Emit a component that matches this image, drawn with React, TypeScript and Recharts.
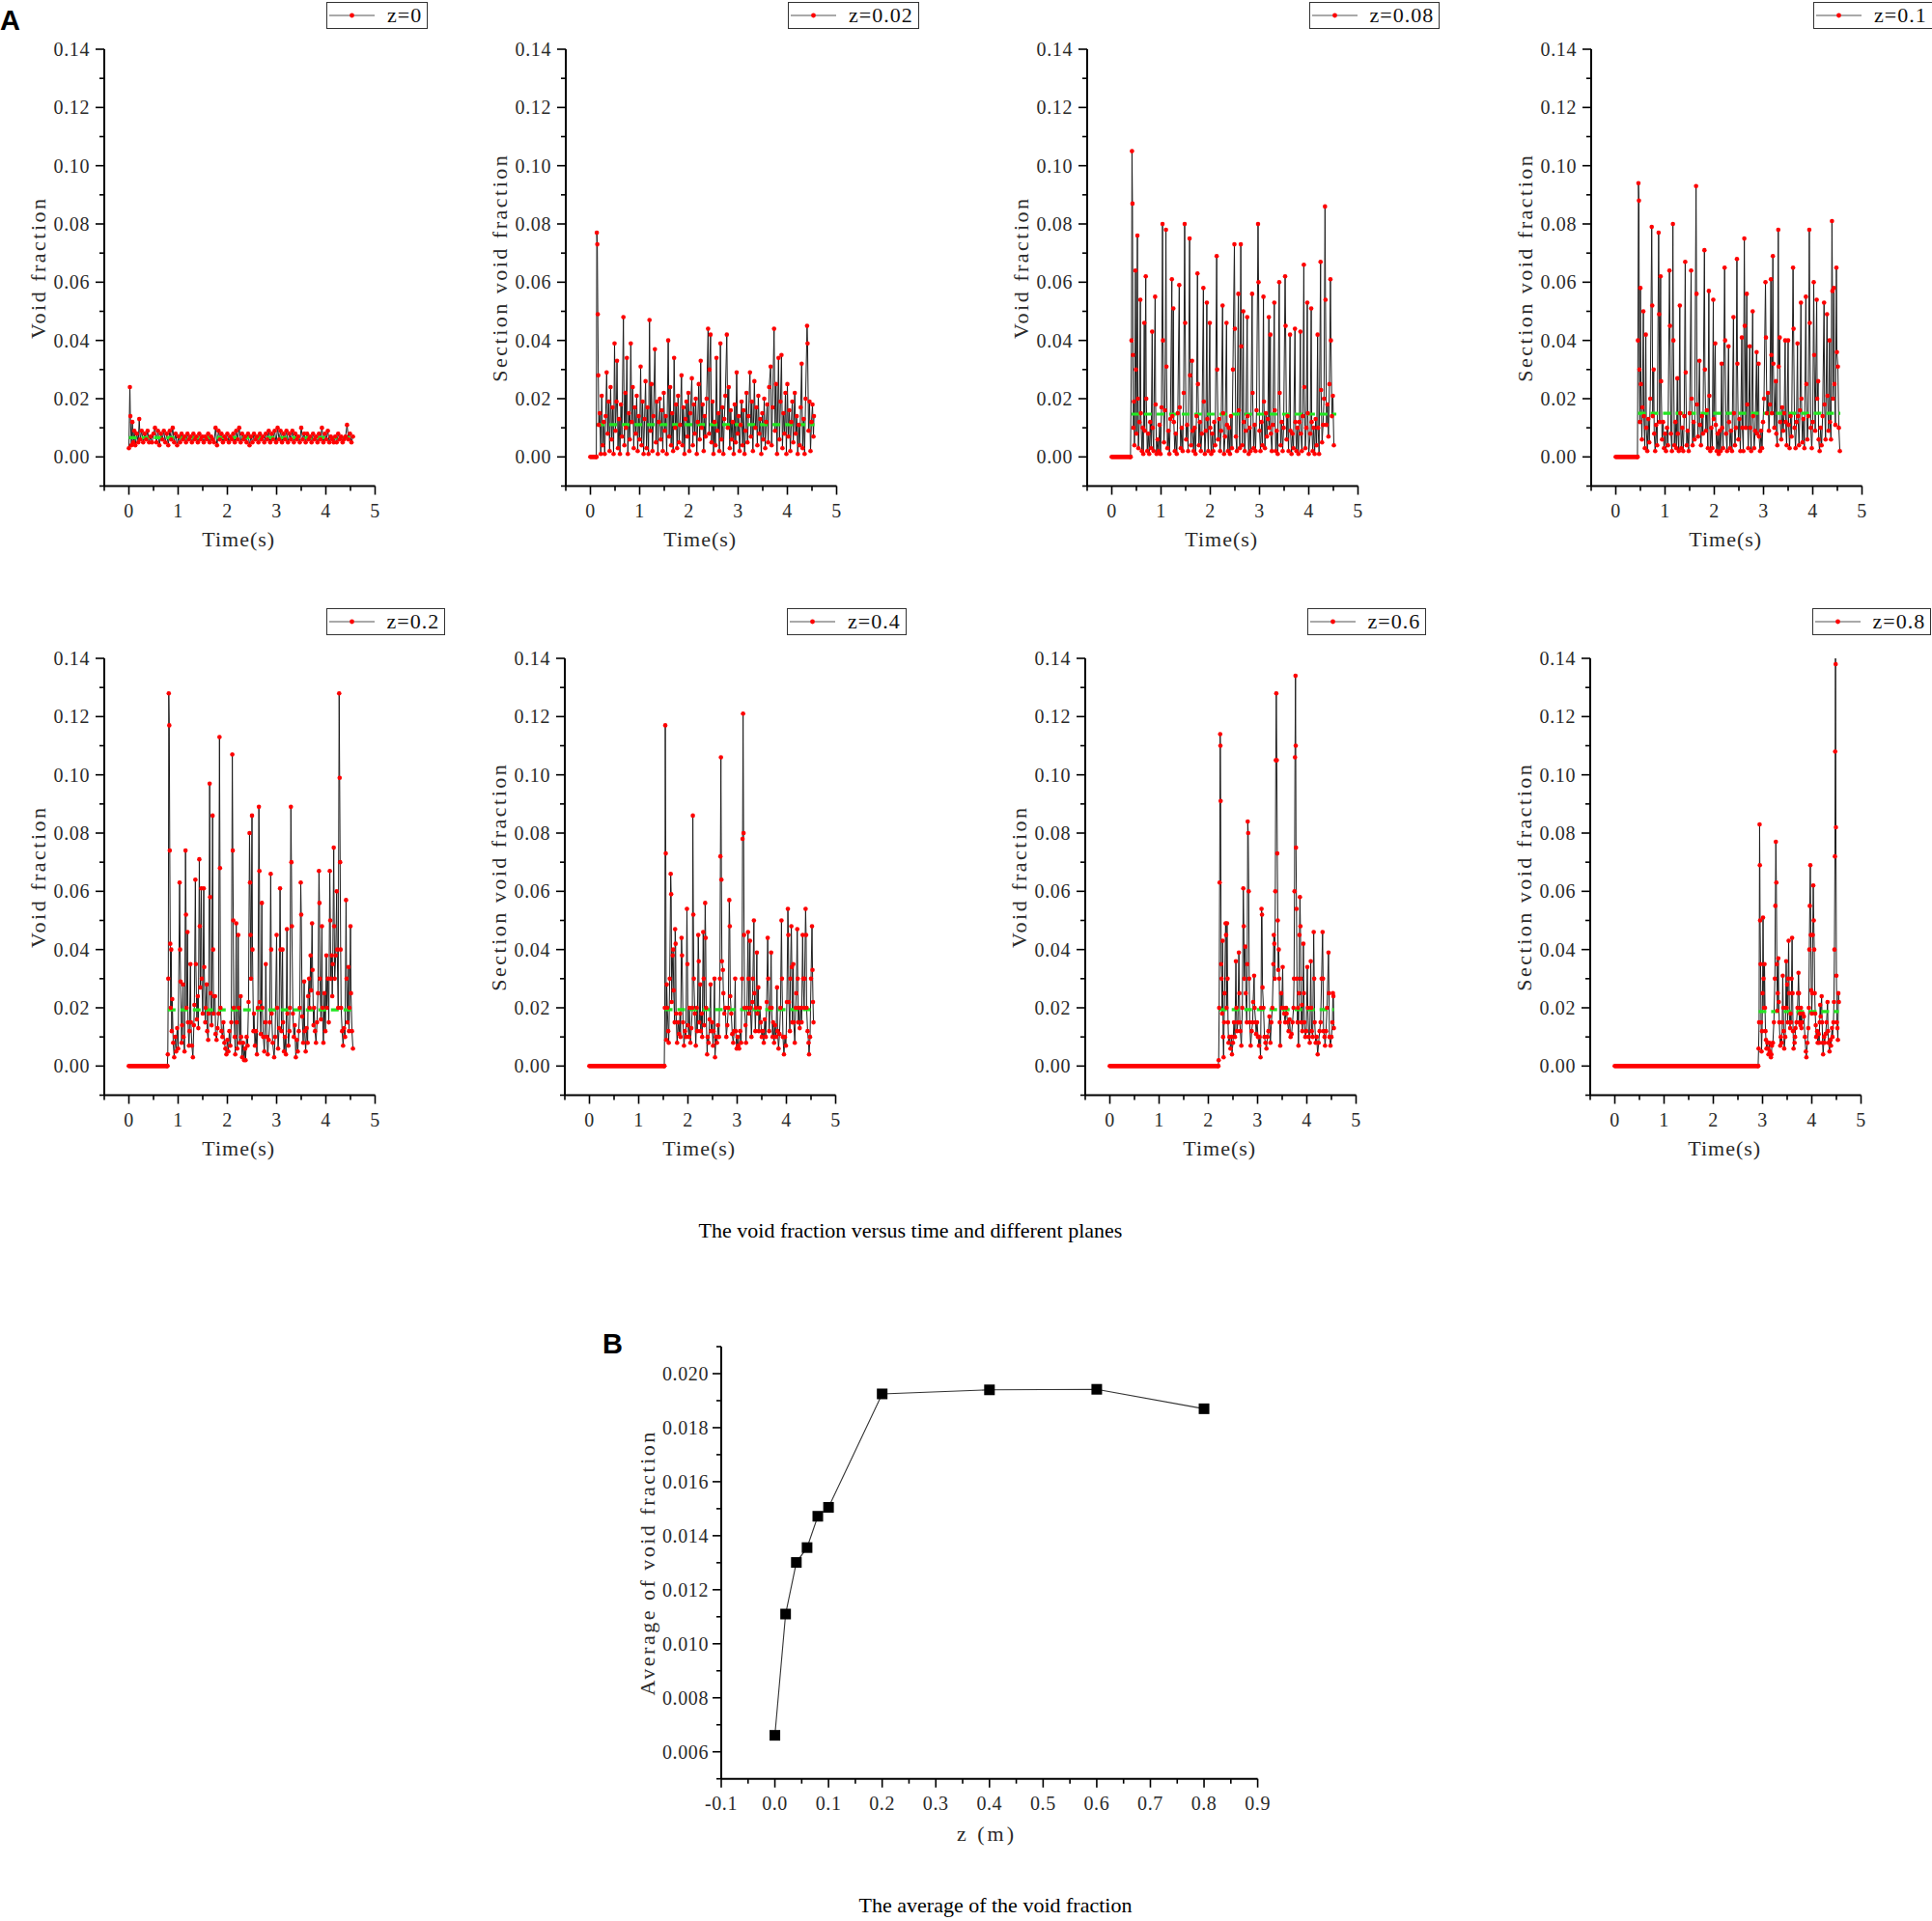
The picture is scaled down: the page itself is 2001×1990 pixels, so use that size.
import React from 'react';
import { LineChart, Line, XAxis, YAxis, Legend } from 'recharts';

// ---------------- DATA ----------------
const planeLabels = ['z=0', 'z=0.02', 'z=0.08', 'z=0.1', 'z=0.2', 'z=0.4', 'z=0.6', 'z=0.8'];
const yTitles = ['Void fraction', 'Section void fraction', 'Void fraction', 'Section void fraction',
  'Void fraction', 'Section void fraction', 'Void fraction', 'Section void fraction'];
// time (s) until which the plane stays dry (void fraction 0)
const dryUntil = [0, 0.12, 0.38, 0.44, 0.78, 1.52, 2.2, 2.91];
// average void fraction per plane, and the time span of the average line
const meanValues = [0.0066, 0.0111, 0.0147, 0.015, 0.0193, 0.0194, 0.0194, 0.0187];
const meanStart = [0.0, 0.13, 0.4, 0.45, 0.79, 1.53, 2.22, 2.92];
const meanEnd = [4.56, 4.55, 4.56, 4.56, 4.55, 4.55, 4.55, 4.55];

const seriesZ0: number[][] = [[0,0.003],[0.02,0.024],[0.03,0.014],[0.05,0.004],[0.07,0.012],[0.09,0.005],[0.11,0.009],[0.13,0.004],[0.16,0.008],[0.19,0.005],[0.21,0.013],[0.23,0.006],[0.26,0.009],[0.29,0.005],[0.32,0.008],[0.35,0.006],[0.38,0.009],[0.41,0.005],[0.44,0.007],[0.47,0.005],[0.5,0.008],[0.53,0.01],[0.56,0.005],[0.59,0.009],[0.62,0.004],[0.65,0.008],[0.68,0.006],[0.71,0.009],[0.74,0.005],[0.77,0.008],[0.8,0.004],[0.83,0.009],[0.86,0.006],[0.89,0.01],[0.92,0.005],[0.95,0.008],[0.98,0.004],[1.01,0.007],[1.04,0.005],[1.07,0.008],[1.1,0.006],[1.13,0.007],[1.16,0.005],[1.19,0.008],[1.22,0.006],[1.25,0.007],[1.28,0.005],[1.31,0.008],[1.34,0.006],[1.37,0.007],[1.4,0.005],[1.43,0.008],[1.46,0.006],[1.49,0.007],[1.52,0.005],[1.55,0.007],[1.58,0.006],[1.61,0.008],[1.64,0.005],[1.67,0.007],[1.7,0.006],[1.73,0.005],[1.76,0.01],[1.79,0.004],[1.82,0.009],[1.85,0.006],[1.88,0.008],[1.91,0.005],[1.94,0.007],[1.97,0.006],[2,0.008],[2.03,0.005],[2.06,0.007],[2.09,0.006],[2.12,0.008],[2.15,0.005],[2.18,0.009],[2.21,0.006],[2.24,0.01],[2.27,0.005],[2.3,0.008],[2.33,0.006],[2.36,0.007],[2.39,0.005],[2.42,0.008],[2.45,0.004],[2.48,0.007],[2.51,0.005],[2.54,0.008],[2.57,0.006],[2.6,0.007],[2.63,0.005],[2.66,0.008],[2.69,0.006],[2.72,0.007],[2.75,0.005],[2.78,0.008],[2.81,0.006],[2.84,0.009],[2.87,0.005],[2.9,0.008],[2.93,0.006],[2.96,0.009],[2.99,0.005],[3.02,0.01],[3.05,0.006],[3.08,0.009],[3.11,0.005],[3.14,0.008],[3.17,0.006],[3.2,0.009],[3.23,0.005],[3.26,0.008],[3.29,0.006],[3.32,0.009],[3.35,0.005],[3.38,0.008],[3.41,0.006],[3.44,0.007],[3.47,0.005],[3.5,0.01],[3.53,0.006],[3.56,0.008],[3.59,0.005],[3.62,0.008],[3.65,0.006],[3.68,0.007],[3.71,0.005],[3.74,0.008],[3.77,0.006],[3.8,0.007],[3.83,0.005],[3.86,0.008],[3.89,0.006],[3.92,0.01],[3.95,0.005],[3.98,0.008],[4.01,0.006],[4.04,0.009],[4.07,0.005],[4.1,0.007],[4.13,0.006],[4.16,0.005],[4.19,0.007],[4.22,0.005],[4.25,0.008],[4.28,0.006],[4.31,0.007],[4.34,0.005],[4.37,0.006],[4.4,0.007],[4.43,0.011],[4.46,0.006],[4.49,0.008],[4.52,0.005],[4.55,0.007]];

const seriesZ002: number[][] = [[0.12,0],[0.13,0.077],[0.14,0.073],[0.15,0.049],[0.16,0.028],[0.17,0.011],[0.19,0.015],[0.21,0.001],[0.23,0.021],[0.25,0.004],[0.27,0.012],[0.29,0.001],[0.31,0.014],[0.33,0.029],[0.35,0.008],[0.37,0.019],[0.39,0.002],[0.41,0.024],[0.43,0.006],[0.45,0.017],[0.47,0.001],[0.49,0.039],[0.51,0.009],[0.53,0.019],[0.54,0.033],[0.56,0.003],[0.58,0.013],[0.6,0.001],[0.62,0.018],[0.64,0.007],[0.67,0.048],[0.69,0.004],[0.71,0.022],[0.72,0.01],[0.74,0.034],[0.76,0.001],[0.78,0.015],[0.8,0.006],[0.82,0.039],[0.84,0.012],[0.86,0.024],[0.88,0.003],[0.9,0.017],[0.92,0.008],[0.94,0.021],[0.96,0.002],[0.98,0.014],[1,0.006],[1.02,0.031],[1.04,0.004],[1.06,0.019],[1.08,0.001],[1.1,0.013],[1.12,0.026],[1.14,0.003],[1.16,0.017],[1.18,0.001],[1.2,0.047],[1.22,0.009],[1.24,0.025],[1.26,0.002],[1.28,0.014],[1.31,0.037],[1.33,0.005],[1.35,0.019],[1.37,0.001],[1.39,0.012],[1.41,0.02],[1.43,0.006],[1.45,0.016],[1.47,0.002],[1.49,0.022],[1.51,0.009],[1.53,0.014],[1.55,0.001],[1.58,0.04],[1.6,0.007],[1.62,0.024],[1.64,0.004],[1.66,0.015],[1.68,0.002],[1.7,0.034],[1.72,0.01],[1.74,0.018],[1.76,0.003],[1.78,0.021],[1.8,0.005],[1.82,0.011],[1.85,0.028],[1.87,0.004],[1.89,0.017],[1.91,0.001],[1.93,0.013],[1.95,0.019],[1.97,0.007],[1.99,0.022],[2.01,0.002],[2.03,0.015],[2.06,0.027],[2.08,0.004],[2.1,0.018],[2.12,0.008],[2.14,0.02],[2.16,0.001],[2.18,0.012],[2.2,0.025],[2.22,0.006],[2.24,0.033],[2.26,0.01],[2.28,0.018],[2.3,0.002],[2.32,0.014],[2.34,0.007],[2.36,0.02],[2.39,0.044],[2.41,0.008],[2.42,0.03],[2.44,0.042],[2.46,0.005],[2.48,0.019],[2.5,0.001],[2.52,0.012],[2.54,0.004],[2.56,0.034],[2.58,0.009],[2.6,0.015],[2.62,0.002],[2.64,0.039],[2.66,0.006],[2.68,0.017],[2.7,0.001],[2.72,0.013],[2.74,0.021],[2.77,0.042],[2.79,0.01],[2.81,0.024],[2.83,0.003],[2.85,0.016],[2.87,0.006],[2.89,0.012],[2.91,0.001],[2.93,0.018],[2.95,0.005],[2.97,0.029],[2.99,0.008],[3.01,0.014],[3.03,0.002],[3.05,0.011],[3.07,0.019],[3.09,0.004],[3.11,0.016],[3.13,0.001],[3.15,0.009],[3.17,0.022],[3.19,0.005],[3.21,0.014],[3.24,0.029],[3.26,0.007],[3.28,0.019],[3.3,0.002],[3.33,0.026],[3.35,0.01],[3.37,0.017],[3.39,0.004],[3.41,0.021],[3.43,0.008],[3.45,0.013],[3.47,0.001],[3.49,0.015],[3.51,0.006],[3.53,0.02],[3.55,0.003],[3.57,0.012],[3.59,0.018],[3.61,0.005],[3.63,0.024],[3.66,0.031],[3.68,0.004],[3.7,0.017],[3.73,0.044],[3.75,0.009],[3.77,0.025],[3.79,0.001],[3.82,0.034],[3.84,0.006],[3.86,0.019],[3.88,0.035],[3.9,0.003],[3.92,0.015],[3.94,0.008],[3.96,0.022],[3.98,0.001],[4,0.025],[4.02,0.007],[4.04,0.016],[4.06,0.002],[4.08,0.012],[4.1,0.019],[4.12,0.005],[4.15,0.022],[4.17,0.008],[4.19,0.014],[4.21,0.001],[4.23,0.011],[4.25,0.004],[4.27,0.017],[4.29,0.032],[4.31,0.003],[4.33,0.013],[4.35,0.001],[4.37,0.02],[4.4,0.045],[4.41,0.039],[4.43,0.009],[4.45,0.019],[4.47,0.002],[4.49,0.012],[4.51,0.018],[4.53,0.007],[4.54,0.014]];

const seriesZ008: number[][] = [[0.38,0],[0.4,0.04],[0.41,0.105],[0.42,0.087],[0.43,0.035],[0.44,0.01],[0.45,0.019],[0.46,0.004],[0.48,0.064],[0.49,0.03],[0.5,0.008],[0.52,0.076],[0.53,0.02],[0.54,0.003],[0.56,0.012],[0.58,0.054],[0.59,0.015],[0.61,0.002],[0.63,0.01],[0.64,0.001],[0.66,0.046],[0.67,0.009],[0.69,0.062],[0.7,0.02],[0.72,0.002],[0.74,0.008],[0.76,0.001],[0.78,0.012],[0.8,0.003],[0.82,0.043],[0.83,0.01],[0.85,0.002],[0.88,0.055],[0.89,0.018],[0.91,0.001],[0.93,0.006],[0.95,0.002],[0.97,0.011],[0.99,0.001],[1.01,0.017],[1.03,0.08],[1.04,0.04],[1.06,0.005],[1.08,0.016],[1.1,0.078],[1.11,0.031],[1.13,0.003],[1.15,0.009],[1.17,0.001],[1.19,0.013],[1.22,0.061],[1.23,0.014],[1.25,0.051],[1.26,0.012],[1.28,0.002],[1.3,0.008],[1.32,0.001],[1.34,0.015],[1.37,0.059],[1.38,0.017],[1.4,0.003],[1.42,0.01],[1.44,0.002],[1.46,0.022],[1.48,0.08],[1.49,0.046],[1.51,0.006],[1.53,0.011],[1.55,0.002],[1.58,0.075],[1.59,0.028],[1.61,0.004],[1.63,0.033],[1.64,0.009],[1.66,0.002],[1.68,0.01],[1.7,0.001],[1.72,0.014],[1.74,0.063],[1.75,0.025],[1.77,0.004],[1.79,0.012],[1.81,0.002],[1.83,0.008],[1.86,0.058],[1.87,0.019],[1.89,0.001],[1.91,0.009],[1.93,0.053],[1.94,0.013],[1.96,0.002],[1.99,0.046],[2,0.01],[2.02,0.001],[2.04,0.008],[2.06,0.002],[2.08,0.012],[2.1,0.004],[2.13,0.069],[2.14,0.03],[2.16,0.006],[2.18,0.013],[2.2,0.002],[2.22,0.009],[2.25,0.052],[2.26,0.015],[2.28,0.001],[2.3,0.007],[2.33,0.046],[2.34,0.011],[2.36,0.002],[2.38,0.01],[2.4,0.001],[2.42,0.014],[2.44,0.003],[2.46,0.03],[2.49,0.073],[2.5,0.044],[2.52,0.007],[2.54,0.002],[2.57,0.056],[2.58,0.016],[2.6,0.003],[2.62,0.073],[2.63,0.038],[2.65,0.004],[2.67,0.05],[2.68,0.012],[2.7,0.002],[2.72,0.009],[2.75,0.048],[2.76,0.014],[2.78,0.001],[2.8,0.01],[2.82,0.002],[2.85,0.056],[2.86,0.022],[2.88,0.003],[2.9,0.011],[2.92,0.002],[2.94,0.016],[2.97,0.08],[2.98,0.06],[3,0.009],[3.02,0.002],[3.04,0.012],[3.06,0.004],[3.08,0.055],[3.09,0.019],[3.11,0.003],[3.13,0.015],[3.15,0.007],[3.17,0.013],[3.19,0.048],[3.2,0.01],[3.22,0.042],[3.23,0.008],[3.25,0.002],[3.27,0.011],[3.3,0.053],[3.31,0.016],[3.33,0.002],[3.35,0.009],[3.37,0.001],[3.4,0.06],[3.41,0.022],[3.43,0.004],[3.45,0.012],[3.47,0.002],[3.49,0.01],[3.52,0.062],[3.53,0.045],[3.55,0.006],[3.57,0.014],[3.59,0.002],[3.62,0.042],[3.63,0.009],[3.65,0.001],[3.67,0.008],[3.69,0.003],[3.72,0.044],[3.73,0.012],[3.75,0.002],[3.77,0.01],[3.79,0.001],[3.81,0.012],[3.83,0.043],[3.84,0.008],[3.86,0.002],[3.88,0.014],[3.9,0.066],[3.91,0.024],[3.93,0.003],[3.95,0.01],[3.97,0.053],[3.98,0.015],[4,0.001],[4.03,0.008],[4.05,0.051],[4.06,0.012],[4.08,0.002],[4.1,0.01],[4.12,0.001],[4.14,0.013],[4.16,0.004],[4.18,0.042],[4.19,0.01],[4.21,0.001],[4.24,0.067],[4.25,0.023],[4.27,0.005],[4.29,0.011],[4.31,0.02],[4.33,0.086],[4.34,0.054],[4.36,0.011],[4.38,0.018],[4.4,0.007],[4.42,0.025],[4.44,0.061],[4.45,0.04],[4.47,0.014],[4.49,0.021],[4.51,0.004]];

const seriesZ01: number[][] = [[0.44,0],[0.45,0.04],[0.46,0.094],[0.47,0.088],[0.48,0.03],[0.49,0.012],[0.5,0.058],[0.51,0.025],[0.53,0.006],[0.54,0.017],[0.56,0.05],[0.57,0.014],[0.59,0.003],[0.61,0.042],[0.62,0.01],[0.64,0.002],[0.66,0.013],[0.68,0.005],[0.7,0.02],[0.73,0.079],[0.74,0.052],[0.75,0.014],[0.77,0.03],[0.78,0.008],[0.8,0.002],[0.82,0.011],[0.84,0.004],[0.87,0.077],[0.88,0.049],[0.89,0.012],[0.91,0.062],[0.92,0.026],[0.94,0.006],[0.96,0.012],[0.98,0.003],[1,0.008],[1.02,0.002],[1.04,0.01],[1.06,0.004],[1.09,0.064],[1.1,0.045],[1.12,0.008],[1.14,0.002],[1.16,0.08],[1.17,0.04],[1.19,0.004],[1.21,0.012],[1.23,0.003],[1.25,0.027],[1.26,0.008],[1.28,0.002],[1.3,0.052],[1.31,0.015],[1.33,0.003],[1.35,0.01],[1.37,0.002],[1.39,0.014],[1.41,0.067],[1.42,0.029],[1.44,0.004],[1.46,0.009],[1.48,0.002],[1.5,0.015],[1.53,0.064],[1.54,0.02],[1.56,0.004],[1.58,0.012],[1.6,0.006],[1.63,0.093],[1.64,0.056],[1.65,0.018],[1.67,0.007],[1.7,0.033],[1.71,0.011],[1.73,0.004],[1.75,0.014],[1.77,0.008],[1.8,0.071],[1.81,0.03],[1.83,0.009],[1.85,0.016],[1.87,0.003],[1.89,0.057],[1.9,0.021],[1.92,0.002],[1.94,0.01],[1.96,0.003],[1.98,0.054],[1.99,0.013],[2.02,0.039],[2.03,0.011],[2.05,0.002],[2.07,0.008],[2.09,0.001],[2.11,0.009],[2.13,0.002],[2.15,0.032],[2.16,0.01],[2.18,0.003],[2.21,0.065],[2.22,0.04],[2.24,0.008],[2.26,0.002],[2.29,0.038],[2.3,0.012],[2.32,0.003],[2.34,0.009],[2.36,0.002],[2.39,0.048],[2.4,0.015],[2.42,0.004],[2.44,0.01],[2.46,0.068],[2.47,0.032],[2.49,0.006],[2.51,0.013],[2.53,0.002],[2.56,0.041],[2.57,0.01],[2.59,0.002],[2.61,0.075],[2.62,0.045],[2.64,0.01],[2.66,0.056],[2.67,0.018],[2.69,0.003],[2.72,0.038],[2.73,0.01],[2.75,0.002],[2.78,0.05],[2.79,0.014],[2.81,0.003],[2.83,0.009],[2.86,0.036],[2.87,0.008],[2.9,0.032],[2.91,0.007],[2.93,0.002],[2.95,0.009],[2.97,0.003],[2.99,0.012],[3.01,0.02],[3.04,0.06],[3.05,0.041],[3.07,0.015],[3.09,0.022],[3.11,0.009],[3.13,0.018],[3.15,0.061],[3.16,0.035],[3.17,0.015],[3.19,0.069],[3.2,0.032],[3.22,0.01],[3.25,0.026],[3.26,0.008],[3.28,0.004],[3.3,0.078],[3.31,0.031],[3.33,0.041],[3.34,0.012],[3.36,0.006],[3.38,0.017],[3.4,0.009],[3.42,0.015],[3.44,0.04],[3.45,0.012],[3.47,0.004],[3.5,0.04],[3.51,0.011],[3.53,0.003],[3.55,0.014],[3.57,0.007],[3.6,0.065],[3.61,0.044],[3.63,0.01],[3.65,0.003],[3.67,0.012],[3.69,0.039],[3.7,0.014],[3.72,0.004],[3.74,0.016],[3.76,0.053],[3.77,0.02],[3.79,0.005],[3.81,0.013],[3.83,0.003],[3.86,0.055],[3.87,0.025],[3.89,0.006],[3.91,0.014],[3.93,0.078],[3.94,0.046],[3.96,0.01],[3.98,0.003],[4,0.012],[4.02,0.06],[4.03,0.035],[4.05,0.009],[4.08,0.054],[4.09,0.02],[4.11,0.026],[4.12,0.006],[4.14,0.002],[4.16,0.01],[4.18,0.004],[4.2,0.014],[4.23,0.053],[4.24,0.018],[4.26,0.006],[4.29,0.049],[4.3,0.021],[4.32,0.009],[4.34,0.04],[4.35,0.012],[4.37,0.006],[4.39,0.081],[4.4,0.057],[4.41,0.02],[4.43,0.058],[4.44,0.025],[4.46,0.011],[4.48,0.065],[4.49,0.036],[4.51,0.031],[4.53,0.01],[4.55,0.002]];

const seriesZ02: number[][] = [[0.78,0],[0.79,0.004],[0.8,0.03],[0.81,0.128],[0.82,0.117],[0.83,0.074],[0.84,0.042],[0.85,0.02],[0.86,0.04],[0.87,0.012],[0.88,0.023],[0.9,0.008],[0.92,0.003],[0.94,0.01],[0.96,0.005],[0.98,0.013],[1,0.006],[1.03,0.063],[1.04,0.04],[1.05,0.029],[1.07,0.008],[1.08,0.014],[1.1,0.028],[1.11,0.01],[1.13,0.005],[1.15,0.074],[1.16,0.052],[1.17,0.02],[1.19,0.046],[1.2,0.015],[1.22,0.007],[1.23,0.012],[1.25,0.035],[1.26,0.015],[1.28,0.007],[1.3,0.003],[1.32,0.014],[1.33,0.021],[1.35,0.064],[1.36,0.035],[1.38,0.016],[1.4,0.024],[1.41,0.013],[1.43,0.071],[1.44,0.048],[1.45,0.027],[1.47,0.061],[1.48,0.03],[1.5,0.018],[1.52,0.061],[1.53,0.034],[1.55,0.015],[1.56,0.02],[1.58,0.028],[1.59,0.012],[1.61,0.009],[1.62,0.018],[1.64,0.097],[1.65,0.058],[1.66,0.025],[1.68,0.014],[1.7,0.086],[1.71,0.04],[1.72,0.018],[1.73,0.024],[1.75,0.024],[1.76,0.011],[1.78,0.009],[1.8,0.013],[1.82,0.018],[1.84,0.113],[1.85,0.068],[1.86,0.02],[1.88,0.012],[1.9,0.01],[1.92,0.015],[1.94,0.008],[1.96,0.006],[1.98,0.004],[2,0.009],[2.02,0.005],[2.04,0.012],[2.06,0.007],[2.08,0.015],[2.1,0.107],[2.11,0.074],[2.12,0.05],[2.13,0.02],[2.15,0.01],[2.16,0.004],[2.18,0.049],[2.19,0.015],[2.2,0.006],[2.22,0.045],[2.23,0.02],[2.25,0.008],[2.27,0.024],[2.28,0.01],[2.3,0.003],[2.32,0.008],[2.34,0.002],[2.36,0.006],[2.37,0.002],[2.39,0.01],[2.41,0.007],[2.43,0.022],[2.45,0.08],[2.46,0.063],[2.47,0.045],[2.48,0.03],[2.5,0.086],[2.51,0.04],[2.53,0.012],[2.54,0.018],[2.56,0.007],[2.58,0.012],[2.6,0.004],[2.62,0.02],[2.64,0.089],[2.65,0.067],[2.66,0.022],[2.68,0.011],[2.7,0.056],[2.71,0.02],[2.73,0.01],[2.75,0.005],[2.77,0.015],[2.78,0.035],[2.8,0.01],[2.82,0.004],[2.84,0.009],[2.86,0.015],[2.88,0.066],[2.89,0.04],[2.9,0.018],[2.92,0.008],[2.95,0.003],[2.97,0.01],[3,0.045],[3.01,0.02],[3.03,0.006],[3.05,0.013],[3.07,0.061],[3.08,0.04],[3.1,0.012],[3.12,0.04],[3.13,0.015],[3.15,0.005],[3.17,0.01],[3.19,0.004],[3.21,0.047],[3.22,0.018],[3.24,0.007],[3.26,0.012],[3.27,0.02],[3.29,0.089],[3.3,0.07],[3.31,0.048],[3.33,0.018],[3.35,0.01],[3.37,0.014],[3.39,0.003],[3.41,0.009],[3.43,0.005],[3.45,0.012],[3.47,0.02],[3.49,0.063],[3.5,0.052],[3.52,0.017],[3.54,0.008],[3.56,0.029],[3.57,0.012],[3.59,0.005],[3.61,0.013],[3.63,0.008],[3.64,0.024],[3.66,0.03],[3.67,0.02],[3.69,0.038],[3.7,0.026],[3.72,0.049],[3.73,0.033],[3.75,0.014],[3.76,0.02],[3.78,0.012],[3.8,0.008],[3.82,0.015],[3.84,0.025],[3.86,0.067],[3.87,0.056],[3.88,0.03],[3.9,0.016],[3.92,0.048],[3.93,0.02],[3.95,0.008],[3.97,0.025],[3.99,0.012],[4.01,0.038],[4.02,0.02],[4.04,0.03],[4.06,0.015],[4.08,0.067],[4.09,0.05],[4.1,0.03],[4.12,0.038],[4.13,0.024],[4.14,0.035],[4.16,0.075],[4.17,0.048],[4.18,0.03],[4.2,0.038],[4.22,0.06],[4.23,0.04],[4.25,0.02],[4.27,0.128],[4.28,0.099],[4.29,0.07],[4.3,0.04],[4.31,0.02],[4.33,0.012],[4.35,0.007],[4.37,0.013],[4.39,0.01],[4.41,0.057],[4.42,0.03],[4.44,0.015],[4.46,0.034],[4.47,0.012],[4.48,0.02],[4.5,0.048],[4.51,0.025],[4.53,0.012],[4.55,0.006]];

const seriesZ04: number[][] = [[1.52,0],[1.53,0.02],[1.54,0.117],[1.55,0.073],[1.56,0.009],[1.57,0.028],[1.58,0.02],[1.6,0.012],[1.61,0.008],[1.63,0.03],[1.65,0.066],[1.66,0.059],[1.67,0.022],[1.69,0.038],[1.7,0.04],[1.71,0.026],[1.73,0.015],[1.74,0.047],[1.75,0.042],[1.76,0.018],[1.78,0.008],[1.8,0.015],[1.82,0.011],[1.84,0.018],[1.85,0.01],[1.87,0.044],[1.88,0.038],[1.9,0.015],[1.92,0.007],[1.94,0.012],[1.96,0.01],[1.98,0.054],[1.99,0.035],[2,0.014],[2.02,0.01],[2.03,0.02],[2.05,0.008],[2.07,0.013],[2.09,0.02],[2.1,0.086],[2.11,0.052],[2.12,0.03],[2.14,0.018],[2.16,0.007],[2.18,0.02],[2.19,0.012],[2.21,0.045],[2.22,0.036],[2.23,0.015],[2.25,0.028],[2.26,0.012],[2.28,0.018],[2.29,0.01],[2.31,0.046],[2.32,0.03],[2.33,0.014],[2.35,0.056],[2.36,0.044],[2.37,0.02],[2.39,0.004],[2.4,0.01],[2.42,0.008],[2.44,0.016],[2.46,0.028],[2.47,0.012],[2.49,0.015],[2.51,0.007],[2.52,0.012],[2.54,0.03],[2.55,0.003],[2.57,0.01],[2.59,0.008],[2.61,0.014],[2.63,0.01],[2.65,0.03],[2.66,0.072],[2.67,0.106],[2.68,0.064],[2.69,0.036],[2.71,0.033],[2.72,0.025],[2.74,0.018],[2.76,0.02],[2.78,0.01],[2.8,0.014],[2.82,0.02],[2.84,0.057],[2.85,0.048],[2.86,0.024],[2.88,0.018],[2.9,0.011],[2.92,0.008],[2.94,0.012],[2.96,0.03],[2.97,0.012],[2.99,0.006],[3.01,0.01],[3.02,0.007],[3.04,0.006],[3.06,0.012],[3.08,0.008],[3.1,0.03],[3.11,0.078],[3.12,0.121],[3.13,0.08],[3.14,0.045],[3.15,0.02],[3.17,0.014],[3.18,0.008],[3.2,0.02],[3.22,0.046],[3.23,0.03],[3.24,0.018],[3.26,0.043],[3.27,0.02],[3.29,0.01],[3.31,0.022],[3.32,0.03],[3.34,0.05],[3.35,0.025],[3.37,0.012],[3.38,0.02],[3.4,0.039],[3.41,0.018],[3.43,0.027],[3.44,0.012],[3.46,0.02],[3.48,0.015],[3.5,0.01],[3.52,0.012],[3.54,0.008],[3.56,0.016],[3.58,0.01],[3.6,0.022],[3.62,0.044],[3.63,0.03],[3.65,0.012],[3.67,0.02],[3.69,0.039],[3.7,0.02],[3.72,0.01],[3.73,0.015],[3.75,0.008],[3.77,0.014],[3.79,0.01],[3.81,0.027],[3.82,0.012],[3.84,0.006],[3.86,0.011],[3.88,0.02],[3.9,0.05],[3.91,0.03],[3.93,0.01],[3.95,0.004],[3.97,0.01],[3.99,0.007],[4.01,0.022],[4.03,0.054],[4.04,0.045],[4.05,0.022],[4.07,0.012],[4.08,0.03],[4.1,0.048],[4.11,0.034],[4.12,0.015],[4.14,0.035],[4.15,0.015],[4.17,0.008],[4.19,0.02],[4.2,0.025],[4.22,0.047],[4.23,0.03],[4.24,0.015],[4.25,0.02],[4.27,0.013],[4.29,0.02],[4.31,0.015],[4.33,0.045],[4.34,0.03],[4.36,0.02],[4.37,0.03],[4.39,0.054],[4.4,0.045],[4.41,0.02],[4.43,0.012],[4.45,0.008],[4.46,0.004],[4.48,0.01],[4.5,0.03],[4.52,0.048],[4.53,0.033],[4.54,0.022],[4.55,0.015]];

const seriesZ06: number[][] = [[2.2,0],[2.21,0.002],[2.22,0.02],[2.23,0.063],[2.24,0.114],[2.245,0.11],[2.25,0.091],[2.26,0.035],[2.27,0.03],[2.28,0.018],[2.29,0.043],[2.3,0.01],[2.31,0.003],[2.32,0.015],[2.33,0.025],[2.35,0.049],[2.36,0.045],[2.37,0.02],[2.38,0.049],[2.39,0.03],[2.4,0.015],[2.41,0.008],[2.43,0.01],[2.45,0.006],[2.47,0.01],[2.48,0.004],[2.5,0.008],[2.52,0.015],[2.54,0.01],[2.56,0.036],[2.57,0.02],[2.58,0.012],[2.6,0.015],[2.62,0.039],[2.63,0.025],[2.64,0.015],[2.65,0.012],[2.67,0.007],[2.69,0.02],[2.71,0.061],[2.72,0.048],[2.73,0.03],[2.75,0.041],[2.76,0.025],[2.78,0.015],[2.79,0.035],[2.8,0.084],[2.81,0.08],[2.82,0.06],[2.83,0.03],[2.84,0.015],[2.86,0.007],[2.88,0.012],[2.9,0.015],[2.91,0.022],[2.93,0.031],[2.94,0.02],[2.96,0.015],[2.97,0.011],[2.99,0.015],[3.01,0.01],[3.03,0.007],[3.04,0.01],[3.06,0.003],[3.07,0.02],[3.08,0.054],[3.09,0.052],[3.1,0.027],[3.12,0.02],[3.14,0.01],[3.16,0.008],[3.18,0.006],[3.2,0.01],[3.22,0.012],[3.24,0.017],[3.26,0.008],[3.28,0.015],[3.3,0.02],[3.32,0.035],[3.33,0.045],[3.34,0.042],[3.35,0.03],[3.36,0.06],[3.37,0.105],[3.38,0.128],[3.39,0.105],[3.4,0.073],[3.41,0.05],[3.42,0.033],[3.43,0.04],[3.44,0.03],[3.45,0.015],[3.46,0.007],[3.48,0.025],[3.49,0.02],[3.51,0.034],[3.52,0.02],[3.54,0.018],[3.56,0.015],[3.58,0.02],[3.59,0.018],[3.61,0.015],[3.63,0.012],[3.65,0.016],[3.67,0.01],[3.69,0.011],[3.71,0.015],[3.73,0.02],[3.74,0.03],[3.75,0.06],[3.76,0.106],[3.77,0.134],[3.775,0.11],[3.78,0.075],[3.79,0.054],[3.8,0.03],[3.81,0.015],[3.82,0.02],[3.83,0.007],[3.84,0.025],[3.85,0.045],[3.86,0.058],[3.87,0.048],[3.88,0.03],[3.89,0.015],[3.9,0.021],[3.91,0.012],[3.93,0.042],[3.94,0.025],[3.95,0.015],[3.97,0.01],[3.99,0.012],[4.01,0.034],[4.02,0.02],[4.04,0.01],[4.06,0.008],[4.08,0.036],[4.09,0.02],[4.1,0.012],[4.12,0.01],[4.14,0.046],[4.15,0.03],[4.16,0.015],[4.18,0.008],[4.2,0.01],[4.22,0.004],[4.24,0.008],[4.26,0.012],[4.28,0.015],[4.3,0.03],[4.32,0.046],[4.33,0.03],[4.34,0.012],[4.36,0.01],[4.37,0.007],[4.39,0.012],[4.41,0.02],[4.44,0.039],[4.45,0.025],[4.46,0.01],[4.48,0.007],[4.5,0.01],[4.52,0.015],[4.53,0.025],[4.54,0.024],[4.55,0.013]];

const seriesZ08: number[][] = [[2.91,0],[2.92,0.006],[2.93,0.015],[2.94,0.083],[2.945,0.069],[2.95,0.05],[2.96,0.035],[2.97,0.015],[2.98,0.005],[2.99,0.012],[3,0.025],[3.01,0.051],[3.02,0.03],[3.03,0.02],[3.04,0.035],[3.05,0.02],[3.06,0.012],[3.07,0.009],[3.08,0.006],[3.1,0.008],[3.11,0.006],[3.12,0.004],[3.14,0.008],[3.15,0.005],[3.17,0.003],[3.18,0.004],[3.19,0.007],[3.21,0.008],[3.23,0.015],[3.25,0.03],[3.26,0.055],[3.27,0.077],[3.28,0.063],[3.29,0.035],[3.3,0.019],[3.31,0.025],[3.32,0.037],[3.33,0.022],[3.34,0.015],[3.36,0.007],[3.37,0.01],[3.39,0.008],[3.4,0.015],[3.41,0.031],[3.42,0.02],[3.43,0.012],[3.44,0.006],[3.46,0.01],[3.47,0.02],[3.48,0.036],[3.49,0.02],[3.5,0.028],[3.51,0.015],[3.52,0.03],[3.53,0.043],[3.54,0.025],[3.55,0.015],[3.56,0.013],[3.57,0.018],[3.58,0.015],[3.59,0.03],[3.6,0.044],[3.61,0.025],[3.62,0.012],[3.63,0.006],[3.65,0.008],[3.66,0.01],[3.67,0.013],[3.69,0.015],[3.71,0.02],[3.72,0.025],[3.73,0.032],[3.74,0.025],[3.75,0.015],[3.76,0.018],[3.77,0.014],[3.78,0.02],[3.79,0.013],[3.8,0.015],[3.82,0.018],[3.84,0.017],[3.86,0.01],[3.88,0.005],[3.89,0.003],[3.91,0.008],[3.93,0.013],[3.94,0.02],[3.95,0.04],[3.96,0.055],[3.97,0.069],[3.98,0.045],[3.99,0.026],[4,0.018],[4.01,0.025],[4.02,0.045],[4.03,0.062],[4.04,0.05],[4.05,0.04],[4.06,0.025],[4.07,0.018],[4.08,0.014],[4.09,0.01],[4.11,0.012],[4.12,0.008],[4.14,0.011],[4.15,0.008],[4.16,0.015],[4.17,0.021],[4.18,0.017],[4.2,0.024],[4.21,0.015],[4.22,0.008],[4.23,0.004],[4.25,0.01],[4.26,0.008],[4.28,0.011],[4.3,0.015],[4.32,0.022],[4.33,0.012],[4.34,0.008],[4.36,0.005],[4.38,0.009],[4.39,0.007],[4.41,0.013],[4.42,0.01],[4.44,0.015],[4.45,0.022],[4.46,0.04],[4.47,0.072],[4.475,0.108],[4.48,0.15],[4.485,0.138],[4.49,0.082],[4.5,0.031],[4.51,0.015],[4.52,0.013],[4.53,0.009],[4.54,0.025],[4.55,0.022]];

const allSeries = [seriesZ0, seriesZ002, seriesZ008, seriesZ01, seriesZ02, seriesZ04, seriesZ06, seriesZ08];

const timeTicks = [-0.5, 0, 0.5, 1, 1.5, 2, 2.5, 3, 3.5, 4, 4.5, 5];
const fractionTicks = [-0.01, 0, 0.01, 0.02, 0.03, 0.04, 0.05, 0.06, 0.07, 0.08, 0.09, 0.1, 0.11, 0.12, 0.13, 0.14];

// Panel B
const zPlanes = [0, 0.02, 0.04, 0.06, 0.08, 0.1, 0.2, 0.4, 0.6, 0.8];
const avgFraction = [0.00661, 0.0111, 0.01301, 0.01356, 0.01472, 0.01505, 0.01925, 0.0194, 0.01942, 0.0187];
const zTicks = [-0.1, -0.05, 0, 0.05, 0.1, 0.15, 0.2, 0.25, 0.3, 0.35, 0.4, 0.45, 0.5, 0.55, 0.6, 0.65, 0.7, 0.75, 0.8, 0.85, 0.9];
const avgTicks = [0.005, 0.006, 0.007, 0.008, 0.009, 0.01, 0.011, 0.012, 0.013, 0.014, 0.015, 0.016, 0.017, 0.018, 0.019, 0.02, 0.021];

// ---------------- LAYOUT ----------------
const SERIF = '"Liberation Serif", "DejaVu Serif", "Times New Roman", serif';
const SANS = '"Liberation Sans", Arial, "DejaVu Sans", sans-serif';
const panelAxisX = [108, 586, 1125.5, 1648, 107.5, 585, 1123.5, 1646.5];
const panelPlotTop = [51, 51, 51, 51, 681.5, 681.5, 681.5, 681.5];
const legendTopRow = [2, 2, 2, 2, 630, 630, 630, 630];
const PLOT_W = 280.5;
const PLOT_H = 452.5;
const CH_W = 480;
const CH_H = 600;
const TOP_M = 60;
const YAX_W = 108;
const XAX_H = 80;

const tickFont: React.CSSProperties = { fontFamily: SERIF, fontSize: 20, fill: '#2a2a2a', letterSpacing: 0.6 };

function makeYTick(isMajor: (v: number) => boolean, fmt: (v: number) => string, gap: number) {
  return (props: any) => {
    const { x, y, payload } = props;
    const v = payload.value;
    const maj = isMajor(v);
    return (
      <g>
        <line x1={x} x2={x - (maj ? 9 : 5)} y1={y} y2={y} stroke="#000" strokeWidth={1.6} />
        {maj && (
          <text x={x - 9 - gap} y={y} textAnchor="end" dominantBaseline="central" style={tickFont}>
            {fmt(v)}
          </text>
        )}
      </g>
    );
  };
}

function makeXTick(isMajor: (v: number) => boolean, fmt: (v: number) => string) {
  return (props: any) => {
    const { x, y, payload } = props;
    const v = payload.value;
    const maj = isMajor(v);
    return (
      <g>
        <line x1={x} x2={x} y1={y} y2={y + (maj ? 9 : 5)} stroke="#000" strokeWidth={1.6} />
        {maj && (
          <text x={x} y={y + 25} textAnchor="middle" dominantBaseline="central" style={tickFont}>
            {fmt(v)}
          </text>
        )}
      </g>
    );
  };
}

const AxisTitle = (props: any) => {
  const { px, py, txt, rot, ls } = props;
  return (
    <text
      x={px}
      y={py}
      transform={rot ? `rotate(-90 ${px} ${py})` : undefined}
      textAnchor="middle"
      dominantBaseline="central"
      style={{ fontFamily: SERIF, fontSize: 22, fill: '#2a2a2a', letterSpacing: ls }}
    >
      {txt}
    </text>
  );
};

const fracTick = makeYTick(
  (v) => Math.round(v * 100) >= 0 && Math.round(v * 100) % 2 === 0,
  (v) => v.toFixed(2),
  6
);
const timeTick = makeXTick((v) => Number.isInteger(v), (v) => String(v));
const avgTick = makeYTick((v) => Math.round(v * 1000) % 2 === 0, (v) => v.toFixed(3), 4);
const zTick = makeXTick((v) => Math.round(v * 100) % 10 === 0, (v) => v.toFixed(1));

const LegendBox = ({ text }: { text: string }) => (
  <div
    style={{
      display: 'inline-flex',
      alignItems: 'center',
      height: 26,
      border: '1.5px solid #333',
      background: '#fff',
      padding: '0 5px 0 2px',
      fontFamily: SERIF,
      fontSize: 22,
      color: '#111',
      whiteSpace: 'nowrap',
      boxSizing: 'content-box',
    }}
  >
    <svg width={47} height={26} style={{ display: 'block' }}>
      <line x1={0} x2={47} y1={13} y2={13} stroke="#555" strokeWidth={1} />
      <circle cx={23.5} cy={13} r={2.4} fill="#f00" />
    </svg>
    <span style={{ marginLeft: 13, letterSpacing: 1, lineHeight: '26px' }}>{text}</span>
  </div>
);

function Panel({ idx }: { idx: number }) {
  const axisX = panelAxisX[idx];
  const plotTop = panelPlotTop[idx];
  const chartLeft = axisX - YAX_W;
  const chartTop = plotTop - TOP_M;
  const pts = allSeries[idx].map(([t, v]) => ({ t, v }));
  const dry = dryUntil[idx] > 0 ? [{ t: 0, v: 0 }, { t: dryUntil[idx], v: 0 }] : [];
  const mean = [
    { t: meanStart[idx], v: meanValues[idx] },
    { t: meanEnd[idx], v: meanValues[idx] },
  ];
  return (
    <div style={{ position: 'absolute', left: chartLeft, top: chartTop }}>
      <LineChart
        width={CH_W}
        height={CH_H}
        margin={{ top: TOP_M, left: 0, right: CH_W - YAX_W - PLOT_W, bottom: CH_H - TOP_M - PLOT_H - XAX_H }}
      >
        <XAxis
          type="number"
          dataKey="t"
          domain={[-0.5, 5]}
          ticks={timeTicks}
          interval={0}
          allowDataOverflow
          height={XAX_H}
          tickSize={0}
          tickMargin={0}
          tickLine={false}
          axisLine={{ stroke: '#000', strokeWidth: 2 }}
          tick={timeTick}
          label={<AxisTitle px={YAX_W + PLOT_W / 2 - 1} py={TOP_M + PLOT_H + 55} txt="Time(s)" ls={1} />}
        />
        <YAxis
          type="number"
          domain={[-0.01, 0.14]}
          ticks={fractionTicks}
          interval={0}
          allowDataOverflow
          width={YAX_W}
          tickSize={0}
          tickMargin={0}
          tickLine={false}
          axisLine={{ stroke: '#000', strokeWidth: 2 }}
          tick={fracTick}
          label={<AxisTitle px={39} py={TOP_M + PLOT_H / 2} txt={yTitles[idx]} rot ls={2.5} />}
        />
        {dry.length > 0 && (
          <Line
            data={dry}
            dataKey="v"
            stroke="#f00"
            strokeWidth={4.8}
            strokeLinecap="round"
            dot={false}
            isAnimationActive={false}
            legendType="none"
          />
        )}
        <Line
          data={pts}
          dataKey="v"
          type="linear"
          stroke="#1e1e1e"
          strokeWidth={1}
          dot={{ r: 2.3, fill: '#f00', stroke: 'none' }}
          activeDot={false}
          isAnimationActive={false}
        />
        <Line
          data={mean}
          dataKey="v"
          stroke="#22e622"
          strokeWidth={3.2}
          strokeDasharray="8 5"
          dot={false}
          isAnimationActive={false}
          legendType="none"
        />
        <Legend
          layout="horizontal"
          verticalAlign="middle"
          align="center"
          content={() => <LegendBox text={planeLabels[idx]} />}
          wrapperStyle={{
            position: 'absolute',
            left: 338,
            top: legendTopRow[idx] - chartTop,
            width: 'auto',
            height: 'auto',
            margin: 0,
            lineHeight: 'normal',
          }}
        />
      </LineChart>
    </div>
  );
}

const SquareDot = (props: any) => {
  const { cx, cy, index } = props;
  return <rect key={`sq-${index}`} x={cx - 5.5} y={cy - 5.5} width={11} height={11} fill="#000" />;
};

function PanelB() {
  const pts = zPlanes.map((z, i) => ({ z, v: avgFraction[i] }));
  const W = 760;
  const H = 600;
  const yw = 147;
  const pw = 555.6;
  const ph = 447.7;
  const top = 55;
  const xh = 80;
  return (
    <div style={{ position: 'absolute', left: 600, top: 1340 }}>
      <LineChart width={W} height={H} data={pts} margin={{ top, left: 0, right: W - yw - pw, bottom: H - top - ph - xh }}>
        <XAxis
          type="number"
          dataKey="z"
          domain={[-0.1, 0.9]}
          ticks={zTicks}
          interval={0}
          allowDataOverflow
          height={xh}
          tickSize={0}
          tickMargin={0}
          tickLine={false}
          axisLine={{ stroke: '#000', strokeWidth: 2 }}
          tick={zTick}
          label={<AxisTitle px={422} py={559} txt="z (m)" ls={3} />}
        />
        <YAxis
          type="number"
          domain={[0.005, 0.021]}
          ticks={avgTicks}
          interval={0}
          allowDataOverflow
          width={yw}
          tickSize={0}
          tickMargin={0}
          tickLine={false}
          axisLine={{ stroke: '#000', strokeWidth: 2 }}
          tick={avgTick}
          label={<AxisTitle px={71} py={top + ph / 2} txt="Average of void fraction" rot ls={2.5} />}
        />
        <Line
          dataKey="v"
          type="linear"
          stroke="#333"
          strokeWidth={1.1}
          dot={SquareDot}
          activeDot={false}
          isAnimationActive={false}
        />
      </LineChart>
    </div>
  );
}

export default function App() {
  return (
    <div
      style={{
        position: 'absolute',
        left: 0,
        top: 0,
        width: 2001,
        height: 1990,
        background: '#fff',
        overflow: 'hidden',
      }}
    >
      <svg width={2001} height={1990} style={{ position: 'absolute', left: 0, top: 0 }}>
        <text x={0} y={31} style={{ fontFamily: SANS, fontSize: 29, fontWeight: 700, fill: '#000' }}>A</text>
        <text x={624} y={1402} style={{ fontFamily: SANS, fontSize: 29, fontWeight: 700, fill: '#000' }}>B</text>
        <text x={943} y={1282} textAnchor="middle" style={{ fontFamily: SERIF, fontSize: 22, fill: '#000' }}>
          The void fraction versus time and different planes
        </text>
        <text x={1031} y={1981} textAnchor="middle" style={{ fontFamily: SERIF, fontSize: 22, fill: '#000' }}>
          The average of the void fraction
        </text>
      </svg>
      {planeLabels.map((_, i) => (
        <Panel key={i} idx={i} />
      ))}
      <PanelB />
    </div>
  );
}
